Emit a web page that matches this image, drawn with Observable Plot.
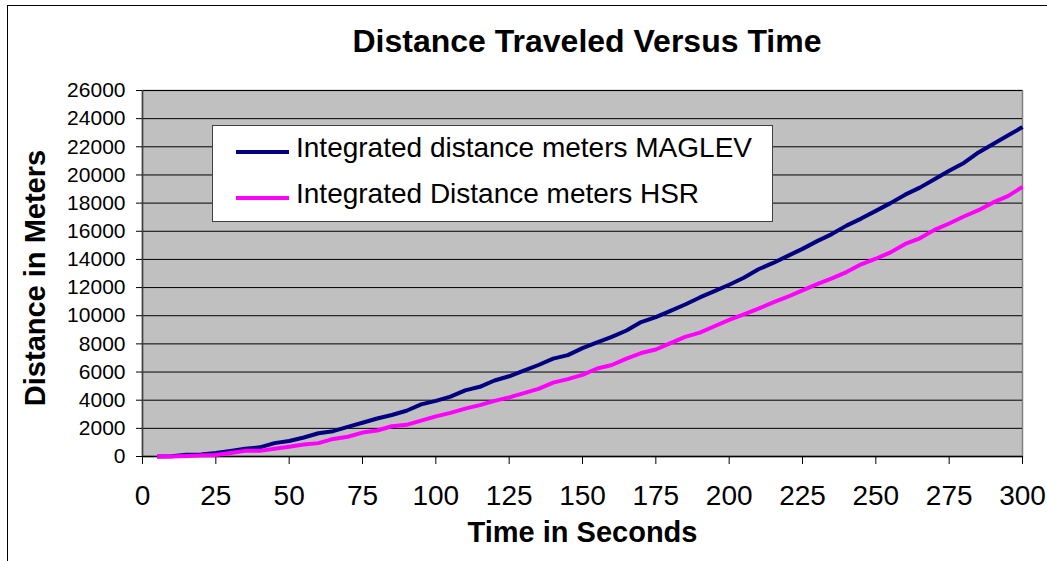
<!DOCTYPE html>
<html>
<head>
<meta charset="utf-8">
<script src="https://cdn.jsdelivr.net/npm/d3@7"></script>
<script src="https://cdn.jsdelivr.net/npm/@observablehq/plot@0.6"></script>
<style>
  html, body { margin: 0; padding: 0; background: #fff; }
  body { font-family: "Liberation Sans", Arial, sans-serif; }
  #wrap { position: relative; width: 1047px; height: 561px; overflow: hidden; }
  #border { position: absolute; left: 7px; top: 5px; width: 1060px; height: 570px; border: 1px solid #000; box-sizing: border-box; }
  .lbl { position: absolute; line-height: 1; white-space: nowrap; color: #000; }
  #title { left: 0; width: 1174px; top: 25px; text-align: center; font-size: 32px; font-weight: bold; }
  #xtitle { left: 0; width: 1165px; top: 518px; text-align: center; font-size: 29px; font-weight: bold; }
  #ytitle { left: 35px; top: 278px; font-size: 29px; font-weight: bold; transform: translate(-50%, -50%) rotate(-90deg); }
  #legend { position: absolute; left: 212px; top: 125px; width: 561px; height: 97px; background: #fff; border: 1px solid #404040; box-sizing: border-box; }
  .swatch { position: absolute; left: 23px; width: 53px; height: 4px; }
  .ltext { position: absolute; left: 83px; font-size: 28px; line-height: 1; white-space: nowrap; }
  #chart svg { position: absolute; left: 0; top: 0; }
</style>
</head>
<body>
<div id="wrap">
  <div id="border"></div>
  <div id="chart"></div>
  <div id="title" class="lbl"></div>
  <div id="xtitle" class="lbl"></div>
  <div id="ytitle" class="lbl"></div>
  <div id="legend"></div>
</div>
<script>
// ---- data ----
const timeSeconds = [5,10,15,20,25,30,35,40,45,50,55,60,65,70,75,80,85,90,95,100,
  105,110,115,120,125,130,135,140,145,150,155,160,165,170,175,180,185,190,195,200,
  205,210,215,220,225,230,235,240,245,250,255,260,265,270,275,280,285,290,295,300];
const maglevMeters = [0,20,130,150,250,400,550,650,950,1100,1350,1650,1800,2100,2400,2700,2950,3250,3700,3950,
  4250,4700,4950,5400,5700,6100,6500,6950,7200,7700,8100,8500,8950,9550,9900,10350,10800,11300,11750,12200,
  12700,13300,13750,14250,14750,15300,15800,16400,16900,17450,18000,18600,19100,19700,20300,20850,21600,22200,22800,23400];
const hsrMeters = [0,0,30,80,100,250,400,400,550,700,850,950,1250,1400,1700,1850,2150,2250,2550,2850,
  3100,3400,3650,3950,4200,4500,4800,5250,5500,5800,6250,6500,6950,7350,7600,8050,8500,8800,9250,9700,
  10100,10500,10950,11350,11800,12250,12650,13100,13650,14050,14500,15100,15500,16100,16550,17050,17500,18050,18500,19150];
const seriesNames = ["Integrated distance meters MAGLEV", "Integrated Distance meters HSR"];
const seriesColors = ["#000080", "#FF00FF"];
const xTicks = [0,25,50,75,100,125,150,175,200,225,250,275,300];
const yTicks = [0,2000,4000,6000,8000,10000,12000,14000,16000,18000,20000,22000,24000,26000];
const titleText = "Distance Traveled Versus Time";
const xLabel = "Time in Seconds";
const yLabel = "Distance in Meters";

const rows = [];
timeSeconds.forEach((t, i) => {
  rows.push({t, d: maglevMeters[i], s: seriesNames[0]});
  rows.push({t, d: hsrMeters[i], s: seriesNames[1]});
});

const chart = Plot.plot({
  width: 1047,
  height: 561,
  marginLeft: 142,
  marginRight: 25,
  marginTop: 90,
  marginBottom: 105,
  style: {fontFamily: "'Liberation Sans', Arial, sans-serif", fontSize: "21px", color: "#000", background: "transparent"},
  x: {domain: [0, 300]},
  y: {domain: [0, 26000]},
  color: {domain: seriesNames, range: seriesColors},
  marks: [
    Plot.frame({fill: "#C0C0C0", stroke: "#808080", strokeWidth: 1.5}),
    Plot.gridY(yTicks, {stroke: "#000", strokeOpacity: 1, strokeWidth: 1}),
    Plot.ruleY([0], {stroke: "#000", strokeWidth: 1.5}),
    Plot.ruleX([0], {stroke: "#404040", strokeWidth: 1.5}),
    Plot.axisY(yTicks, {tickSize: 6, tickPadding: 11, fontSize: 21, tickFormat: d => String(d), label: null, stroke: "#000"}),
    Plot.axisX(xTicks, {tickSize: 8, tickPadding: 21, fontSize: 28, tickFormat: d => String(d), label: null, stroke: "#000"}),
    Plot.line(rows, {x: "t", y: "d", z: "s", stroke: "s", strokeWidth: 4, strokeLinejoin: "round", strokeLinecap: "butt"})
  ]
});
document.getElementById("chart").appendChild(chart);

document.getElementById("title").textContent = titleText;
document.getElementById("xtitle").textContent = xLabel;
document.getElementById("ytitle").textContent = yLabel;

const legend = document.getElementById("legend");
const entryTops = [24, 70];
seriesNames.forEach((name, i) => {
  const sw = document.createElement("div");
  sw.className = "swatch";
  sw.style.top = entryTops[i] + "px";
  sw.style.background = seriesColors[i];
  legend.appendChild(sw);
  const tx = document.createElement("div");
  tx.className = "ltext";
  tx.style.top = (entryTops[i] - 16) + "px";
  tx.textContent = name;
  legend.appendChild(tx);
});
</script>
</body>
</html>
